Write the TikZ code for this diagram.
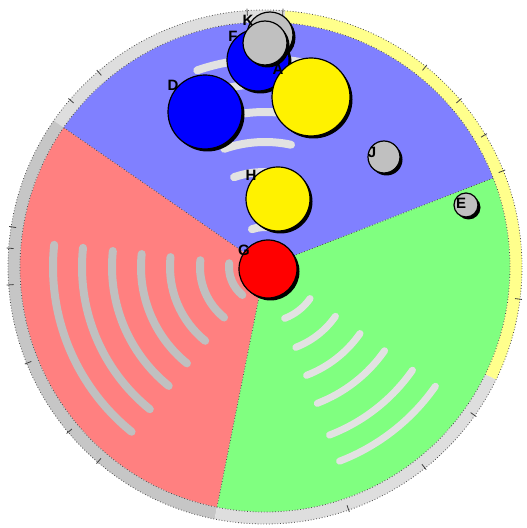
\documentclass[tikz,border=0pt]{standalone}
\usepackage{fontspec}
\setmainfont{Liberation Sans}
\usetikzlibrary{shadows}
\definecolor{secblue}{RGB}{128,128,255}
\definecolor{secred}{RGB}{255,128,128}
\definecolor{secgreen}{RGB}{128,255,128}
\definecolor{ringlight}{RGB}{222,222,222}
\definecolor{ringdark}{RGB}{198,198,198}
\definecolor{ringyellow}{RGB}{255,255,140}
\definecolor{arcred}{RGB}{192,192,192}
\definecolor{arclight}{RGB}{226,226,226}
\definecolor{ballgray}{RGB}{192,192,192}
\tikzset{
  ball/.style={circle, draw=black, line width=1.2pt, inner sep=0pt, minimum size=#1,
    drop shadow={shadow xshift=2.5pt, shadow yshift=-2.5pt, opacity=1, fill=black}},
  lbl/.style={inner sep=0pt, font=\fontsize{15}{15}\selectfont\bfseries},
  bluearc/.style={draw=arclight, line width=8pt, line cap=round},
  redarc/.style={draw=arcred, line width=8pt, line cap=round},
  greenarc/.style={draw=arclight, line width=7pt, line cap=round},
  edge/.style={dotted, draw=black!70, line width=0.8pt},
  ringtick/.style={draw=black!75, line width=0.8pt}
}
\begin{document}
\begin{tikzpicture}[x=1pt,y=1pt]
\useasboundingbox (0,0) rectangle (527,528);
\fill[white] (0,0) rectangle (527,528);
\coordinate (C) at (265,261);
% sectors
\fill[secblue] (C) -- ++(21.3:245) arc[start angle=21.3,end angle=145.3,radius=245] -- cycle;
\fill[secred] (C) -- ++(145.3:245) arc[start angle=145.3,end angle=258.7,radius=245] -- cycle;
\fill[secgreen] (C) -- ++(258.7:245) arc[start angle=258.7,end angle=381.3,radius=245] -- cycle;
% ring
\foreach \a/\b/\c in {-26/85.5/ringyellow, 85.5/145.3/ringlight, 145.3/258.7/ringdark, 258.7/334/ringlight}
  \fill[\c] (C) ++(\a:257) arc[start angle=\a,end angle=\b,radius=257] -- ++(\b:-12) arc[start angle=\b,end angle=\a,radius=245] -- cycle;
% arcs
\foreach \r in {40,95,125,155,183,208}
  \draw[bluearc] (C) ++(78:\r) arc[start angle=78,end angle=109,radius=\r];
\foreach \r in {36,65,95,124,153,183,212}
  \draw[redarc] (C) ++(174:\r) arc[start angle=174,end angle=231,radius=\r];
\foreach \r in {55,86,116,146,180,208}
  \draw[greenarc] (C) ++(-69:\r) arc[start angle=-69,end angle=-35,radius=\r];
% edges
\draw[edge] (C) circle[radius=257];
\draw[edge] (C) circle[radius=245];
\foreach \t in {21.3,145.3,258.7}
  \draw[edge] (C) -- ++(\t:245);
\foreach \t in {94,86,51.3,40.6,31,22,-7.2,-35.3,-51.5,-71,130.5,139.4,171,175.8,184,202,220,229.4}
  \draw[ringtick] (C) ++(\t:252) -- ++(\t:7);
% balls
\node[ball=62pt, fill=blue] (F) at (258,468) {};
\node[ball=46pt, fill=ballgray] (K) at (270,493) {};
\node[ball=44pt, fill=ballgray] (K2) at (265,485) {};
\node[ball=78pt, fill=yellow] (A) at (311,431) {};
\node[ball=74pt, fill=blue] (D) at (205,416) {};
\node[ball=32pt, fill=ballgray] (J) at (384,371) {};
\node[ball=24pt, fill=ballgray] (E) at (466,323) {};
\node[ball=64pt, fill=yellow] (H) at (278,329) {};
\node[ball=58pt, fill=red] (G) at (268,259) {};
% labels
\node[lbl] (lK) at (248,508) {K};
\node[lbl] (lF) at (233,492) {F};
\node[lbl] (lA) at (278,459) {A};
\node[lbl] (lD) at (173,443) {D};
\node[lbl] (lJ) at (372,376) {J};
\node[lbl] (lE) at (461,325) {E};
\node[lbl] (lH) at (251,353) {H};
\node[lbl] (lG) at (244,278) {G};
\end{tikzpicture}
\end{document}
